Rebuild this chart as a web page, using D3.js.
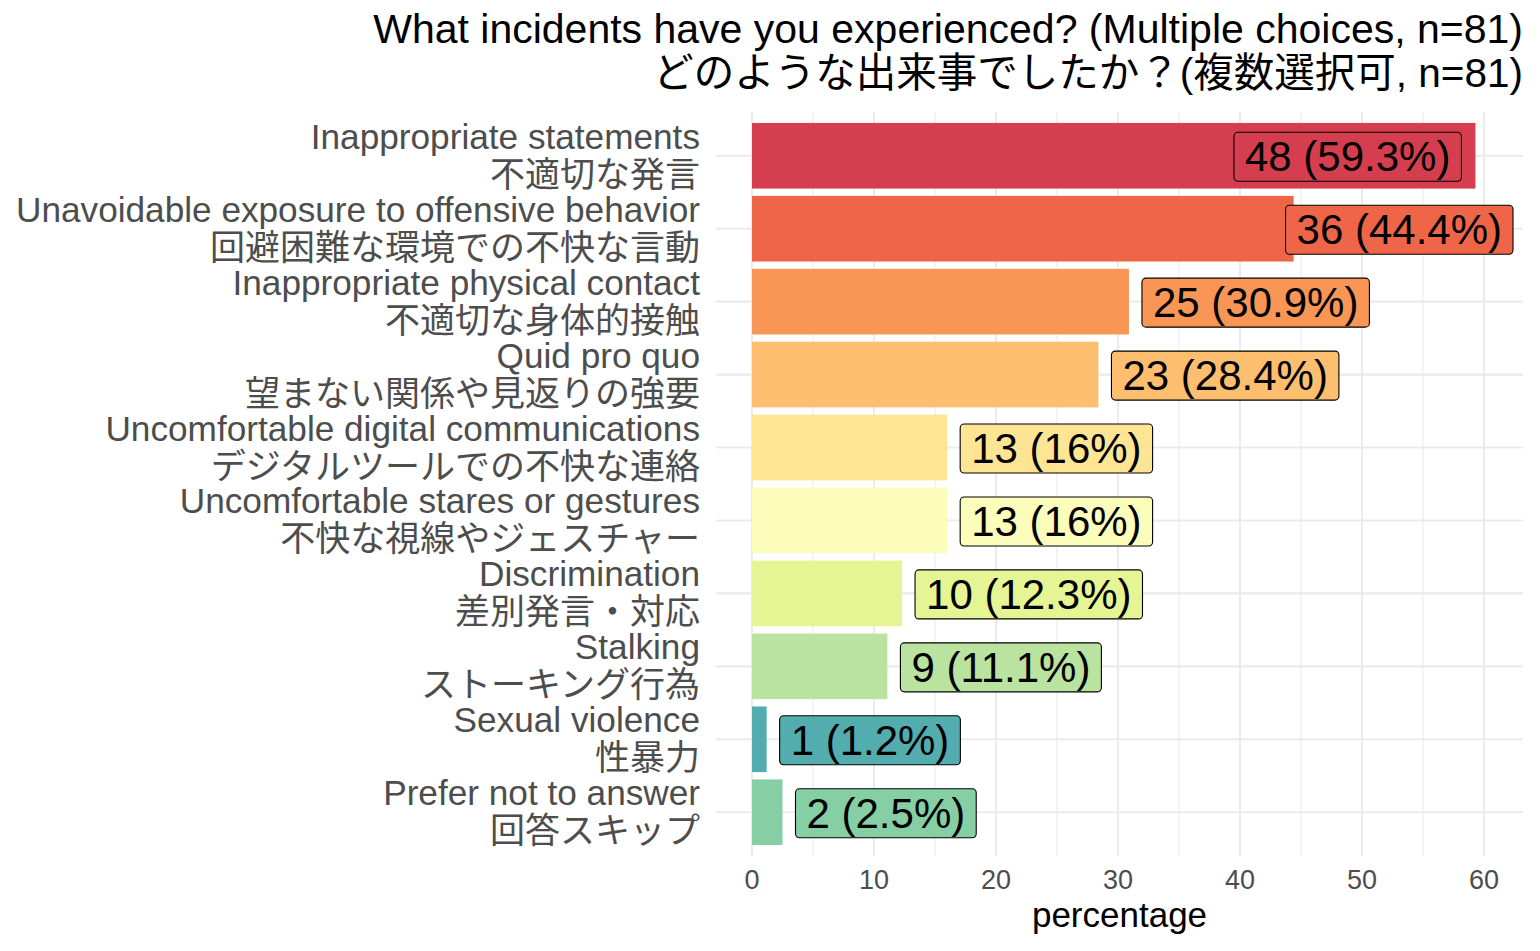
<!DOCTYPE html>
<html>
<head>
<meta charset="utf-8">
<script src="https://cdn.jsdelivr.net/npm/d3@7"></script>
<style>
  html, body { margin: 0; padding: 0; background: #ffffff; }
  svg { display: block; }
  text { font-family: "Liberation Sans", "Noto Sans CJK JP", sans-serif; }
</style>
</head>
<body>
<svg id="chart" width="1540" height="951"></svg>
<script>
const categoriesEN = [
  "Inappropriate statements",
  "Unavoidable exposure to offensive behavior",
  "Inappropriate physical contact",
  "Quid pro quo",
  "Uncomfortable digital communications",
  "Uncomfortable stares or gestures",
  "Discrimination",
  "Stalking",
  "Sexual violence",
  "Prefer not to answer"
];
const categoriesJP = [
  "不適切な発言",
  "回避困難な環境での不快な言動",
  "不適切な身体的接触",
  "望まない関係や見返りの強要",
  "デジタルツールでの不快な連絡",
  "不快な視線やジェスチャー",
  "差別発言・対応",
  "ストーキング行為",
  "性暴力",
  "回答スキップ"
];
const counts = [48, 36, 25, 23, 13, 13, 10, 9, 1, 2];
const percentages = [59.3, 44.4, 30.9, 28.4, 16, 16, 12.3, 11.1, 1.2, 2.5];
const barColors = ["#D53E4F", "#EF6548", "#F99656", "#FDBF6F", "#FEE593",
                   "#FCFDBB", "#E6F594", "#BBE3A0", "#53ADAF", "#86CFA4"];
const xTicks = [0, 10, 20, 30, 40, 50, 60];
const xMinorTicks = [5, 15, 25, 35, 45, 55];
const titleLines = [
  "What incidents have you experienced? (Multiple choices, n=81)",
  "どのような出来事でしたか？(複数選択可, n=81)"
];
const xTitle = "percentage";

const svg = d3.select("#chart");
const panel = { left: 716, right: 1523, top: 112, bottom: 856 };

const x = d3.scaleLinear().domain([-2.95, 63.2]).range([panel.left, panel.right]);
const y = d3.scaleBand().domain(d3.range(categoriesEN.length))
  .range([panel.top, panel.bottom]).paddingInner(0.1).paddingOuter(0.15);

const grid = svg.append("g");
// minor vertical grid
grid.selectAll("line.minor").data(xMinorTicks).join("line")
  .attr("x1", d => x(d)).attr("x2", d => x(d))
  .attr("y1", panel.top).attr("y2", panel.bottom)
  .attr("stroke", "#EBEBEB").attr("stroke-width", 1.1);
// major vertical grid
grid.selectAll("line.major").data(xTicks).join("line")
  .attr("x1", d => x(d)).attr("x2", d => x(d))
  .attr("y1", panel.top).attr("y2", panel.bottom)
  .attr("stroke", "#EBEBEB").attr("stroke-width", 2.1);
// horizontal grid
grid.selectAll("line.h").data(d3.range(categoriesEN.length)).join("line")
  .attr("x1", panel.left).attr("x2", panel.right)
  .attr("y1", d => y(d) + y.bandwidth() / 2).attr("y2", d => y(d) + y.bandwidth() / 2)
  .attr("stroke", "#EBEBEB").attr("stroke-width", 2.1);

// bars
svg.append("g").selectAll("rect").data(percentages).join("rect")
  .attr("x", x(0))
  .attr("y", (d, i) => y(i))
  .attr("width", d => x(d) - x(0))
  .attr("height", y.bandwidth())
  .attr("fill", (d, i) => barColors[i]);

// labels
const labelFont = 42;
const lg = svg.append("g");
percentages.forEach((p, i) => {
  const g = lg.append("g");
  const cy = y(i) + y.bandwidth() / 2;
  const t = g.append("text")
    .text(`${counts[i]} (${p}%)`)
    .attr("font-size", labelFont)
    .attr("fill", "#000")
    .attr("dominant-baseline", "central")
    .attr("y", cy + 1);
  const w = t.node().getComputedTextLength();
  const padX = 11;
  const boxW = w + 2 * padX;
  const boxH = 49;
  const barEnd = x(p);
  let left = barEnd + 13;
  const overflow = left + boxW - (panel.right - 10);
  if (overflow > boxW / 2) {
    left = barEnd - 14 - boxW;
  } else if (overflow > 0) {
    left = panel.right - 10 - boxW;
  }
  g.insert("rect", "text")
    .attr("x", left).attr("y", cy - boxH / 2 + 1)
    .attr("width", boxW).attr("height", boxH)
    .attr("rx", 4).attr("ry", 4)
    .attr("fill", barColors[i])
    .attr("stroke", "#000").attr("stroke-width", 1.1);
  t.attr("x", left + padX);
});

// y axis labels
const yl = svg.append("g");
categoriesEN.forEach((c, i) => {
  const cy = y(i) + y.bandwidth() / 2;
  yl.append("text").text(c)
    .attr("x", 700).attr("y", cy - 7)
    .attr("text-anchor", "end")
    .attr("font-size", 35.2).attr("fill", "#4D4D4D");
  yl.append("text").text(categoriesJP[i])
    .attr("x", 700).attr("y", cy + 31)
    .attr("text-anchor", "end")
    .attr("font-family", "'Noto Sans CJK JP', sans-serif")
    .attr("font-size", 35).attr("fill", "#4D4D4D");
});

// x axis ticks
svg.append("g").selectAll("text").data(xTicks).join("text")
  .attr("x", d => x(d)).attr("y", 889)
  .attr("text-anchor", "middle")
  .attr("font-size", 27).attr("fill", "#4D4D4D")
  .text(d => d);

// x axis title
svg.append("text").text(xTitle)
  .attr("x", (panel.left + panel.right) / 2).attr("y", 927)
  .attr("text-anchor", "middle")
  .attr("font-size", 35).attr("fill", "#000");

// title
svg.append("text").text(titleLines[0])
  .attr("x", panel.right).attr("y", 43)
  .attr("text-anchor", "end")
  .attr("font-size", 41).attr("fill", "#000");
svg.append("text").text(titleLines[1])
  .attr("x", panel.right).attr("y", 87)
  .attr("text-anchor", "end")
  .attr("font-size", 40.5).attr("fill", "#000");
</script>
</body>
</html>
